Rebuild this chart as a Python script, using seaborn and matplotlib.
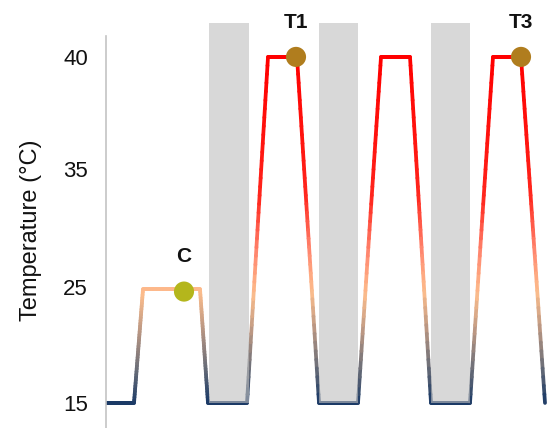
import numpy as np
import seaborn as sns
import matplotlib.pyplot as plt
from matplotlib.collections import LineCollection
from matplotlib.colors import LinearSegmentedColormap

sns.set_theme(style="white")
plt.rcParams['font.family'] = ['Liberation Sans', 'DejaVu Sans']

# temperature profile (time in arbitrary units, temperature in °C)
times = [0, 28, 37, 94, 102, 141, 162, 191, 213, 252, 275, 304, 325, 364, 387, 415, 439]
temps = [15, 15, 24.8, 24.8, 15, 15, 40, 40, 15, 15, 40, 40, 15, 15, 40, 40, 15]

# shaded intervals
shade_start = [103, 213, 325]
shade_end = [143, 252, 364]
shade_top = 41.5

# sampling points
pt_labels = ["C", "T1", "T3"]
pt_times = [78, 190, 415]
pt_temps = [24.6, 40, 40]
pt_colors = ["#b4b61c", "#b07d1e", "#b07d1e"]

yticks = [15, 25, 35, 40]

# uneven axis: the ticks sit almost equally spaced
tk = np.array([15, 25, 35, 40])
pv = np.array([0, 116, 234, 346], dtype=float)


def fwd(t):
    t = np.asarray(t, dtype=float)
    return np.where(t < 15, (t - 15) * 11.6,
                    np.where(t > 40, 346 + (t - 40) * 22.4, np.interp(t, tk, pv)))


def inv(v):
    v = np.asarray(v, dtype=float)
    return np.where(v < 0, 15 + v / 11.6,
                    np.where(v > 346, 40 + (v - 346) / 22.4, np.interp(v, pv, tk)))


cmap = LinearSegmentedColormap.from_list(
    "temp", [(0.0, "#1b3a66"), (0.12, "#6b6e78"), (0.26, "#c09a84"),
             (0.38, "#fdbd8c"), (0.52, "#ff8870"), (0.7, "#ff2a20"), (1.0, "#ff0000")])

fig = plt.figure(figsize=(5.49, 4.28), dpi=100)
ax = fig.add_axes([106 / 549, 0, 443 / 549, 1])
ax.set_yscale("function", functions=(fwd, inv))
ax.set_ylim(12.84, 42.54)
ax.set_xlim(0, 443)

# gradient line: short pieces, straight on the (uneven) axis
xs, vs = [], []
for i in range(len(times) - 1):
    xs.append(np.linspace(times[i], times[i + 1], 40, endpoint=False))
    vs.append(np.linspace(fwd(temps[i]), fwd(temps[i + 1]), 40, endpoint=False))
xs = np.concatenate(xs + [[times[-1]]])
ys = inv(np.concatenate(vs + [[fwd(temps[-1])]]))
segs = np.stack([np.column_stack([xs[:-1], ys[:-1]]), np.column_stack([xs[1:], ys[1:]])], axis=1)
lc = LineCollection(segs, cmap=cmap, linewidths=2.7, capstyle="round", zorder=2)
lc.set_array((ys[:-1] + ys[1:]) / 2)
lc.set_clim(15, 40)
ax.add_collection(lc)

for s, e in zip(shade_start, shade_end):
    ax.bar(s, shade_top - 15, width=e - s, bottom=15, align="edge",
           color="#bfbfbf", alpha=0.6, linewidth=0, zorder=3, clip_on=False)

ax.scatter(pt_times, pt_temps, s=210, c=pt_colors, linewidths=0, zorder=4, clip_on=False)
for lab, x, y in zip(pt_labels, pt_times, pt_temps):
    ax.annotate(lab, (x, y), xytext=(0, 25), textcoords="offset points",
                ha="center", va="center", fontsize=15, fontweight="bold", color="#111111")

ax.set_yticks(yticks)
ax.set_yticklabels([str(t) for t in yticks])
ax.tick_params(axis="y", length=0, pad=13, labelsize=16, colors="#111111")
ax.set_xticks([])
ax.set_ylabel("Temperature (°C)", fontsize=17, color="#111111")
ax.yaxis.set_label_coords(-0.144, 0.463)

for side in ["top", "right", "bottom"]:
    ax.spines[side].set_visible(False)
ax.spines["left"].set_color("#c4c4c4")
ax.spines["left"].set_linewidth(1.2)
ax.spines["left"].set_bounds(12.84, 40.94)

fig.savefig("out.png", dpi=100)
